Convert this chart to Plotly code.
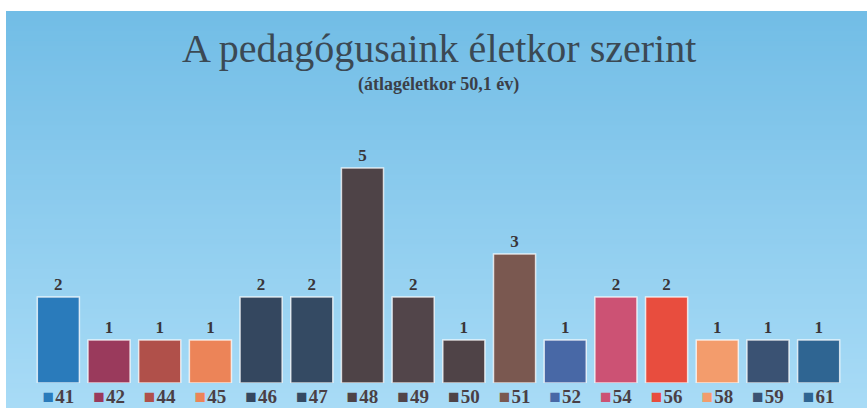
import plotly.graph_objects as go

ages = ["41", "42", "44", "45", "46", "47", "48", "49", "50", "51", "52", "54", "56", "58", "59", "61"]
counts = [2, 1, 1, 1, 2, 2, 5, 2, 1, 3, 1, 2, 2, 1, 1, 1]
colors = ["#2a7bbb", "#9a3a5c", "#b0504a", "#ec8458", "#34475f", "#344a63", "#4e4347", "#52454a",
          "#4f4347", "#7a5850", "#4868a6", "#cc5274", "#e84d3e", "#f39c6c", "#3a5273", "#2f6592"]

title_text = "A pedagógusaink életkor szerint"
subtitle_text = "(átlagéletkor 50,1 év)"

ticktext = [f"<span style='color:{c};font-size:19px'>■</span><span style='font-size:5px'> </span><b>{a}</b>"
            for a, c in zip(ages, colors)]

W, H = 867, 408
ML, MR, MT, MB = 33, 23, 150, 25
PW, PH = W - ML - MR, H - MT - MB

def xpx(px):
    return (px - ML) / PW

def ypx(px):
    return (H - MB - px) / PH

fig = go.Figure()
fig.add_trace(go.Bar(
    x=ages, y=counts,
    marker=dict(color=colors, line=dict(color="rgba(255,255,255,0.75)", width=1.5)),
    text=[f"<b>{v}</b>" for v in counts], textposition="outside", cliponaxis=False,
    textfont=dict(family="Liberation Serif", size=17, color="#3a3538"),
    hoverinfo="x+y",
))

# background gradient bands
shapes = []
n = 80
top_px, bot_px = 11, 408
c0 = (0x72, 0xbd, 0xe6)
c1 = (0xa8, 0xdb, 0xf6)
for i in range(n):
    t = i / (n - 1)
    col = tuple(int(round(c0[k] + (c1[k] - c0[k]) * t)) for k in range(3))
    p1 = top_px + (bot_px - top_px) * i / n
    p0 = top_px + (bot_px - top_px) * (i + 1) / n + 1.5
    shapes.append(dict(type="rect", xref="paper", yref="paper", x0=xpx(6), x1=xpx(867),
                       y0=ypx(min(p0, bot_px)), y1=ypx(p1), fillcolor="rgb(%d,%d,%d)" % col,
                       line=dict(width=0), layer="below"))

fig.update_layout(
    width=W, height=H,
    margin=dict(l=ML, r=MR, t=MT, b=MB),
    paper_bgcolor="white", plot_bgcolor="rgba(0,0,0,0)",
    shapes=shapes,
    bargap=0.17,
    showlegend=False,
    xaxis=dict(type="category", tickmode="array", tickvals=ages, ticktext=ticktext,
               showgrid=False, zeroline=False, showline=False, ticks="", automargin=False,
               tickfont=dict(family="Liberation Serif", size=19, color="#4a3f45")),
    yaxis=dict(range=[0, PH / 43], visible=False, automargin=False),
    annotations=[
        dict(text=title_text, x=0.5, xref="paper", y=ypx(48), yref="paper", yanchor="middle",
             showarrow=False, font=dict(family="Liberation Serif", size=40, color="#3b4954")),
        dict(text=f"<b>{subtitle_text}</b>", x=0.5, xref="paper", y=ypx(84), yref="paper",
             yanchor="middle", showarrow=False,
             font=dict(family="Liberation Serif", size=18, color="#3b3f48")),
    ],
)

fig.write_html(
    "out.html",
    config={"displayModeBar": False},
    post_script="document.body.style.margin='0';document.body.style.overflow='hidden';",
)
